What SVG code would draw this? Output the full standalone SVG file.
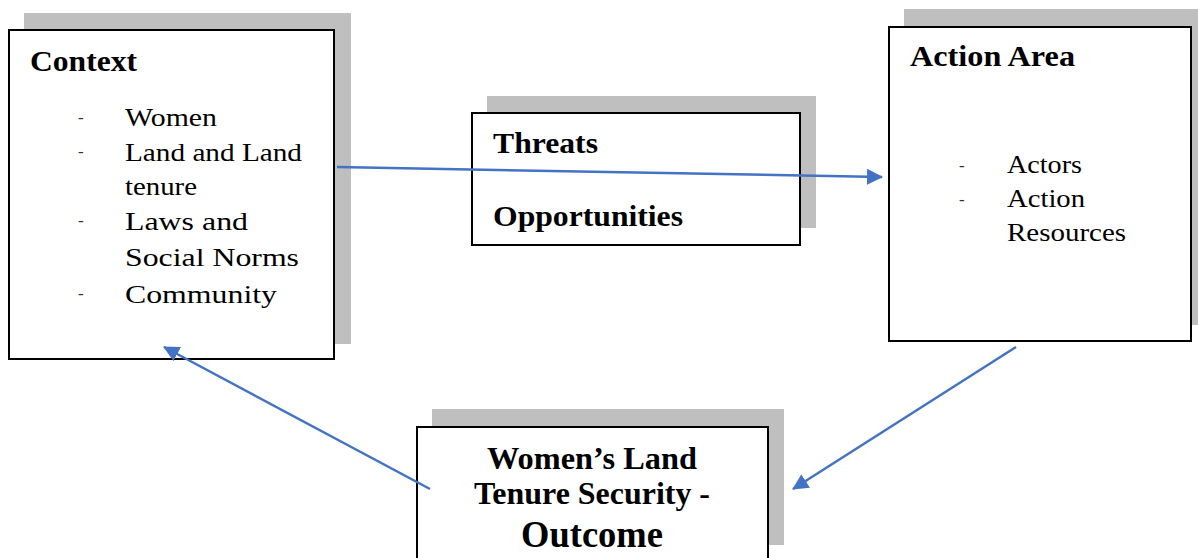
<svg xmlns="http://www.w3.org/2000/svg" width="1198" height="558" viewBox="0 0 1198 558">
<style>
.shadow{fill:#bfbfbf;stroke:none}
.box{fill:#ffffff;stroke:#000000;stroke-width:2}
.title{font-family:"Liberation Serif","Times New Roman",serif;font-weight:bold;font-size:30px;fill:#000}
.body{font-family:"Liberation Serif","Times New Roman",serif;font-size:26px;fill:#000}
.bul{font-family:"Liberation Serif","Times New Roman",serif;font-size:17px;font-style:italic;fill:#333}
.out{font-family:"Liberation Serif","Times New Roman",serif;font-weight:bold;font-size:32px;fill:#000;text-anchor:middle}
.conn{fill:none;stroke:#4472c4;stroke-width:2.5}
</style>
<defs>
<marker id="arrow" viewBox="0 0 16 16" refX="15" refY="8" markerWidth="16" markerHeight="16" markerUnits="userSpaceOnUse" orient="auto">
<path d="M0,0 L16,8 L0,16 z" fill="#4472c4"/>
</marker>
</defs>
<rect width="1198" height="558" fill="#ffffff"/>

<g id="context">
<rect class="shadow" x="24" y="13" width="327" height="331"/>
<rect class="box" x="9" y="30" width="325" height="329"/>
<text class="title" x="30" y="71" textLength="107" lengthAdjust="spacingAndGlyphs">Context</text>
<text class="bul" x="78" y="123">-</text>
<text class="body" x="125" y="126" textLength="92" lengthAdjust="spacingAndGlyphs">Women</text>
<text class="bul" x="78" y="157">-</text>
<text class="body" x="125" y="161" textLength="177" lengthAdjust="spacingAndGlyphs">Land and Land</text>
<text class="body" x="125" y="195" textLength="72" lengthAdjust="spacingAndGlyphs">tenure</text>
<text class="bul" x="78" y="226">-</text>
<text class="body" x="125" y="230" textLength="123" lengthAdjust="spacingAndGlyphs">Laws and</text>
<text class="body" x="125" y="266" textLength="174" lengthAdjust="spacingAndGlyphs">Social Norms</text>
<text class="bul" x="78" y="299">-</text>
<text class="body" x="125" y="303" textLength="152" lengthAdjust="spacingAndGlyphs">Community</text>
</g>

<g id="threats">
<rect class="shadow" x="487" y="96" width="329" height="132"/>
<rect class="box" x="472" y="113" width="328" height="132"/>
<text class="title" x="493" y="153" textLength="105" lengthAdjust="spacingAndGlyphs">Threats</text>
<text class="title" x="493" y="226" textLength="190" lengthAdjust="spacingAndGlyphs">Opportunities</text>
</g>

<g id="action-area">
<rect class="shadow" x="904" y="9" width="294" height="316"/>
<rect class="box" x="889" y="27" width="302" height="314"/>
<text class="title" x="910" y="66" textLength="165" lengthAdjust="spacingAndGlyphs">Action Area</text>
<text class="bul" x="959" y="171">-</text>
<text class="body" x="1007" y="173" textLength="75" lengthAdjust="spacingAndGlyphs">Actors</text>
<text class="bul" x="959" y="205">-</text>
<text class="body" x="1007" y="207" textLength="78" lengthAdjust="spacingAndGlyphs">Action</text>
<text class="body" x="1007" y="241" textLength="119" lengthAdjust="spacingAndGlyphs">Resources</text>
</g>

<g id="outcome">
<rect class="shadow" x="432" y="409" width="352" height="136"/>
<rect class="box" x="417" y="427" width="351" height="145"/>
<text class="out" x="592" y="469" textLength="210" lengthAdjust="spacingAndGlyphs">Women’s Land</text>
<text class="out" x="592" y="504" textLength="236" lengthAdjust="spacingAndGlyphs">Tenure Security -</text>
<text class="out" x="592" y="547" style="font-size:38px" textLength="142" lengthAdjust="spacingAndGlyphs">Outcome</text>
</g>

<g id="connectors">
<line class="conn" x1="337" y1="167" x2="882" y2="177" marker-end="url(#arrow)"/>
<line class="conn" x1="430" y1="489" x2="164" y2="347" marker-end="url(#arrow)"/>
<line class="conn" x1="1016" y1="347" x2="793" y2="489" marker-end="url(#arrow)"/>
</g>
</svg>
